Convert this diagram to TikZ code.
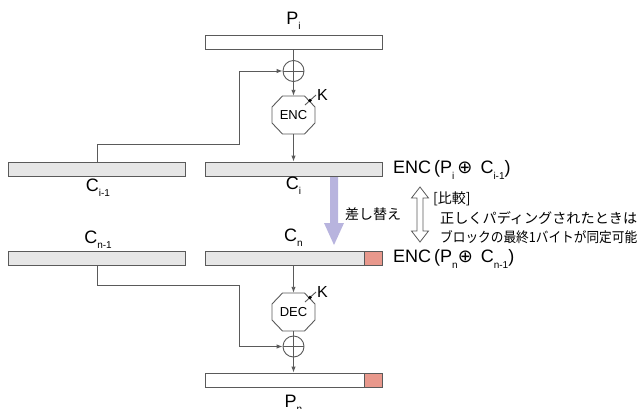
\documentclass[tikz,border=0pt]{standalone}
\usepackage{fontspec}
\usepackage{graphicx}
\setmainfont{Liberation Sans}
\newfontfamily\jpfont{Noto Sans CJK JP}
\newfontfamily\dvfont{DejaVu Sans}
\usetikzlibrary{arrows.meta}
\definecolor{linec}{HTML}{5A5A5A}
\definecolor{boxgrey}{HTML}{E6E6E6}
\definecolor{padred}{HTML}{E8988C}
\definecolor{swapc}{HTML}{B8B4DE}
\newcommand\subx[1]{\raisebox{-0.55ex}{\fontsize{10}{10}\selectfont #1}}
\newcommand\oplusx{{\dvfont\fontsize{18}{18}\selectfont ⊕}}
\newcommand\fitjp[1]{\resizebox{197pt}{\height}{#1}}
\begin{document}
\begin{tikzpicture}[x=1pt,y=-1pt,
  blk/.style={draw=linec, line width=0.9pt, minimum width=177pt, minimum height=14pt, inner sep=0pt},
  padblk/.style={draw=linec, line width=0.9pt, fill=padred, minimum width=18pt, minimum height=14pt, inner sep=0pt, anchor=east},
  lbl/.style={font=\fontsize{18}{18}\selectfont, inner sep=0pt},
  conn/.style={draw=linec, line width=0.9pt},
  arr/.style={conn, -{Latex[length=6pt,width=4.5pt]}},
  xorc/.style={circle, draw=linec, line width=0.9pt, minimum size=21pt, inner sep=0pt},
  oct/.style={draw=linec, line width=0.9pt, fill=white},
  octlbl/.style={minimum width=43pt, minimum height=38pt, inner sep=0pt, font=\fontsize{13}{13}\selectfont},
  klbl/.style={font=\fontsize{16}{16}\selectfont, inner sep=0pt},
  jp/.style={font=\jpfont\fontsize{14}{14}\selectfont, inner sep=0pt, anchor=west},
  enct/.style={font=\fontsize{18}{18}\selectfont, inner sep=0pt, anchor=west}
]
\useasboundingbox (0,0) rectangle (640,408);

% top plaintext
\node[blk, fill=white] (pi) at (293.5,42) {};
\node[lbl] (pil) at (293.5,21) {P\subx{i}};

% xor top
\node[xorc] (x1) at (293.5,71) {};
\draw[conn] (x1.north) -- (x1.south) (x1.west) -- (x1.east);
\draw[conn] (pi.south) -- (x1.north);

% ENC octagon
\draw[oct] (282.5,96) -- (304.5,96) -- (315,107) -- (315,123) -- (304.5,134) -- (282.5,134) -- (272,123) -- (272,107) -- cycle;
\node[octlbl] (enc) at (293.5,115) {ENC};
\coordinate (k1a) at (305,105);
\coordinate (k1b) at (316,95);
\draw[conn] (k1a) -- (k1b);
\fill[black] (310,100.5) circle (1.8pt);
\node[klbl] (k1) at (322.5,95) {K};
\draw[arr] (x1.south) -- (enc.north);

% ciphertext blocks
\node[blk, fill=boxgrey] (ci) at (293.5,169) {};
\node[blk, fill=boxgrey] (cim) at (96.5,169) {};
\node[lbl] (cil) at (293.5,186) {C\subx{i}};
\node[lbl] (ciml) at (98,188) {C\subx{i-1}};
\draw[arr] (enc.south) -- (ci.north);

% feedback line
\coordinate (f1) at (97.5,144);
\coordinate (f2) at (239.5,144);
\coordinate (f3) at (239.5,71);
\draw[arr] (cim.north -| f1) -- (f1) -- (f2) -- (f3) -- (x1.west);

% right ENC label top
\node[enct] (e1) at (393,170) {ENC\,(P\subx{i}\,\oplusx\, C\subx{i-1})};

% swap arrow
\fill[swapc] (330,177) -- (338,177) -- (338,223) -- (344,223) -- (334,245) -- (324,223) -- (330,223) -- cycle;
\node[jp] (swap) at (345,214) {差し替え};

% compare double arrow
\draw[linec, line width=0.8pt, fill=white] (420,187) -- (428.5,198) -- (423,198) -- (423,231) -- (428.5,231) -- (420,242) -- (411.5,231) -- (417,231) -- (417,198) -- (411.5,198) -- cycle;
\node[jp] (cmp1) at (433,199) {[比較]};
\node[jp] (cmp2) at (440,218) {\fitjp{正しくパディングされたときは}};
\node[jp] (cmp3) at (440,237) {\fitjp{ブロックの最終1バイトが同定可能}};

% second row
\node[lbl] (cnl) at (293.5,238) {C\subx{n}};
\node[lbl] (cnml) at (98,240) {C\subx{n-1}};
\node[blk, fill=boxgrey] (cn) at (293.5,258) {};
\node[padblk] (cnp) at (cn.east) {};
\node[blk, fill=boxgrey] (cnm) at (96.5,258) {};
\node[enct] (e2) at (393,259) {ENC\,(P\subx{n}\oplusx\, C\subx{n-1})};

% DEC octagon
\draw[oct] (282.5,293) -- (304.5,293) -- (315,304) -- (315,320) -- (304.5,331) -- (282.5,331) -- (272,320) -- (272,304) -- cycle;
\node[octlbl] (dec) at (293.5,312) {DEC};
\coordinate (k2a) at (305,302);
\coordinate (k2b) at (316,292);
\draw[conn] (k2a) -- (k2b);
\fill[black] (310,297.5) circle (1.8pt);
\node[klbl] (k2) at (322.5,292) {K};
\draw[arr] (cn.south) -- (dec.north);

% xor bottom
\node[xorc] (x2) at (293.5,346.5) {};
\draw[conn] (x2.north) -- (x2.south) (x2.west) -- (x2.east);
\draw[conn] (dec.south) -- (x2.north);

\coordinate (g1) at (97.5,285);
\coordinate (g2) at (239.5,285);
\coordinate (g3) at (239.5,346.5);
\draw[arr] (cnm.south -| g1) -- (g1) -- (g2) -- (g3) -- (x2.west);

% bottom plaintext
\node[blk, fill=white] (pn) at (293.5,380) {};
\node[padblk] (pnp) at (pn.east) {};
\draw[arr] (x2.south) -- (pn.north);
\node[lbl] (pnl) at (293.5,404) {P\subx{n}};
\end{tikzpicture}
\end{document}
